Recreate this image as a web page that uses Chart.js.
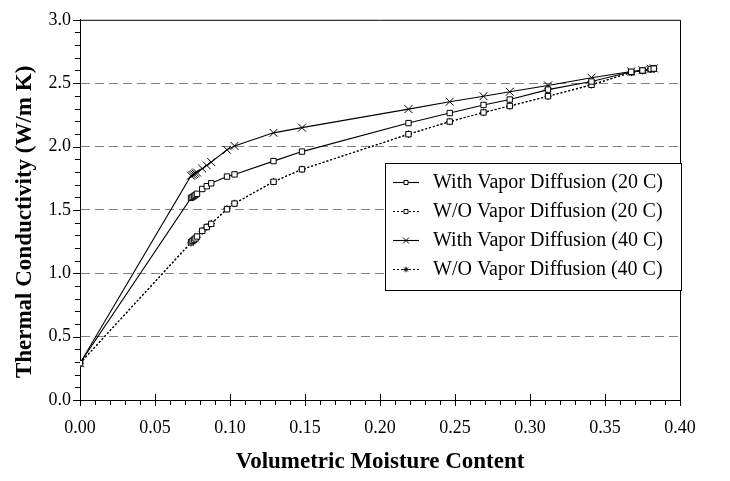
<!DOCTYPE html>
<html><head><meta charset="utf-8">
<script src="https://cdn.jsdelivr.net/npm/chart.js@4.4.1/dist/chart.umd.min.js"></script>
<style>html,body{margin:0;padding:0;background:#fff}canvas{display:block}</style>
</head><body>
<canvas id="c" width="730" height="481"></canvas>
<script>
// ---- data ----
const moisture = [0, 0.0740, 0.0750, 0.0760, 0.0770, 0.0780, 0.0815, 0.0845, 0.0875, 0.0980, 0.1030, 0.1290, 0.1480, 0.2190, 0.2465, 0.2690, 0.2865, 0.3120, 0.3410, 0.3675, 0.3750, 0.3805, 0.3825];
const withVapor20 = [0.29, 1.595, 1.602, 1.610, 1.618, 1.627, 1.665, 1.687, 1.710, 1.763, 1.780, 1.885, 1.960, 2.185, 2.264, 2.328, 2.371, 2.449, 2.513, 2.590, 2.600, 2.612, 2.615];
const withoutVapor20 = [0.29, 1.245, 1.255, 1.265, 1.275, 1.290, 1.335, 1.365, 1.390, 1.505, 1.550, 1.722, 1.820, 2.097, 2.197, 2.269, 2.320, 2.397, 2.487, 2.585, 2.598, 2.610, 2.615];
const withVapor40 = [0.29, 1.770, 1.776, 1.782, 1.789, 1.795, 1.826, 1.851, 1.877, 1.974, 2.005, 2.108, 2.149, 2.295, 2.354, 2.397, 2.432, 2.482, 2.543, 2.592, 2.602, 2.613, 2.617];
const withoutVapor40 = [0.29, 1.240, 1.250, 1.260, 1.272, 1.285, 1.333, 1.364, 1.392, 1.510, 1.551, 1.723, 1.820, 2.097, 2.197, 2.269, 2.320, 2.397, 2.487, 2.585, 2.598, 2.610, 2.615];
const seriesNames = ['With Vapor Diffusion (20 C)', 'W/O Vapor Diffusion (20 C)', 'With Vapor Diffusion (40 C)', 'W/O Vapor Diffusion (40 C)'];
const xAxisTitle = 'Volumetric Moisture Content';
const yAxisTitle = 'Thermal Conductivity (W/m K)';
const xRange = [0, 0.40], xStep = 0.05, xMinor = 0.01;
const yRange = [0, 3.0], yStep = 0.5, yMinor = 0.1;

// ---- styles ----
const SERIF = '"Liberation Serif", "Times New Roman", serif';
const styles = [
  {pointStyle: 'rect', radius: 3.8, dash: [], bg: '#fff'},
  {pointStyle: 'rect', radius: 3.8, dash: [2, 2], bg: '#fff'},
  {pointStyle: 'crossRot', radius: 5.6, dash: [], bg: '#fff'},
  {pointStyle: 'star', radius: 3.7, dash: [2, 2], bg: '#fff'}
];
const seriesValues = [withVapor20, withoutVapor20, withVapor40, withoutVapor40];

const datasets = seriesValues.map((vals, i) => ({
  label: seriesNames[i],
  data: moisture.map((m, k) => ({x: m, y: vals[k]})),
  borderColor: '#000',
  borderWidth: 1.1,
  borderDash: styles[i].dash,
  pointStyle: styles[i].pointStyle,
  pointRadius: styles[i].radius,
  pointBorderColor: '#000',
  pointBorderWidth: 1,
  pointBackgroundColor: styles[i].bg,
  showLine: true,
  fill: false,
  tension: 0
}));

function drawMarker(ctx, style, r, x, y) {
  ctx.save();
  ctx.setLineDash([]);
  ctx.lineWidth = 1;
  ctx.strokeStyle = '#000';
  ctx.fillStyle = '#fff';
  ctx.beginPath();
  if (style === 'rect') {
    const s = r * Math.SQRT1_2;
    ctx.rect(x - s, y - s, 2 * s, 2 * s);
    ctx.fill(); ctx.stroke();
  } else if (style === 'crossRot') {
    const s = r * Math.SQRT1_2;
    ctx.moveTo(x - s, y - s); ctx.lineTo(x + s, y + s);
    ctx.moveTo(x - s, y + s); ctx.lineTo(x + s, y - s);
    ctx.stroke();
  } else if (style === 'star') {
    const s = r * Math.SQRT1_2;
    ctx.moveTo(x - s, y - s); ctx.lineTo(x + s, y + s);
    ctx.moveTo(x - s, y + s); ctx.lineTo(x + s, y - s);
    ctx.moveTo(x, y - r); ctx.lineTo(x, y + r);
    ctx.moveTo(x - r, y); ctx.lineTo(x + r, y);
    ctx.stroke();
  }
  ctx.restore();
}

const framePlugin = {
  id: 'frame',
  beforeDatasetsDraw(chart) {
    const {ctx, chartArea: a, scales: {x, y}} = chart;
    ctx.save();
    ctx.strokeStyle = '#000';
    ctx.lineWidth = 1;
    ctx.setLineDash([]);
    // top and right frame
    ctx.beginPath();
    ctx.moveTo(a.left, a.top + 0.5);
    ctx.lineTo(a.right + 0.5, a.top + 0.5);
    ctx.lineTo(a.right + 0.5, a.bottom);
    ctx.stroke();
    // x ticks
    const nx = Math.round((xRange[1] - xRange[0]) / xMinor);
    const per = Math.round(xStep / xMinor);
    ctx.beginPath();
    const yb = Math.round(y.getPixelForValue(yRange[0]));
    for (let i = 0; i <= nx; i++) {
      const px = Math.round(x.getPixelForValue(xRange[0] + i * xMinor)) + 0.5;
      if (i % per === 0) { ctx.moveTo(px, yb - 6); ctx.lineTo(px, yb + 6); }
      else { ctx.moveTo(px, yb); ctx.lineTo(px, yb + 5); }
    }
    // y ticks
    const ny = Math.round((yRange[1] - yRange[0]) / yMinor);
    const pery = Math.round(yStep / yMinor);
    const xl = Math.round(x.getPixelForValue(xRange[0]));
    for (let i = 0; i <= ny; i++) {
      const py = Math.round(y.getPixelForValue(yRange[0] + i * yMinor)) + 0.5;
      if (i % pery === 0) { ctx.moveTo(xl - 7, py); ctx.lineTo(xl, py); }
      else { ctx.moveTo(xl - 5, py); ctx.lineTo(xl, py); }
    }
    ctx.stroke();
    ctx.restore();
  },
  afterDraw(chart) {
    const {ctx, chartArea: a} = chart;
    // y-axis title
    ctx.save();
    ctx.translate(25, (a.top + a.bottom) / 2 + 12);
    ctx.rotate(-Math.PI / 2);
    ctx.font = 'bold 23px ' + SERIF;
    ctx.fillStyle = '#000';
    ctx.textAlign = 'center';
    ctx.textBaseline = 'middle';
    ctx.fillText(yAxisTitle, 0, 0);
    ctx.restore();
    // legend box
    const bx = 385.5, by = 163.5, bw = 296, bh = 127;
    ctx.save();
    ctx.fillStyle = '#fff';
    ctx.fillRect(bx, by, bw, bh);
    ctx.strokeStyle = '#000';
    ctx.lineWidth = 1;
    ctx.strokeRect(bx, by, bw, bh);
    const rows = [182, 211, 240, 269];
    ctx.font = '20px ' + SERIF;
    ctx.textBaseline = 'middle';
    ctx.textAlign = 'left';
    ctx.fillStyle = '#000';
    seriesNames.forEach((name, i) => {
      const ry = rows[i] + 0.5;
      ctx.save();
      ctx.setLineDash(styles[i].dash);
      ctx.lineWidth = 1.1;
      ctx.beginPath();
      ctx.moveTo(393, ry); ctx.lineTo(419, ry);
      ctx.stroke();
      ctx.restore();
      drawMarker(ctx, styles[i].pointStyle, styles[i].radius * 0.75, 406, ry);
      ctx.fillText(name, 433, rows[i] + 1);
    });
    ctx.restore();
  }
};

new Chart(document.getElementById('c'), {
  type: 'scatter',
  data: {datasets},
  plugins: [framePlugin],
  options: {
    responsive: false,
    animation: false,
    devicePixelRatio: 1,
    layout: {padding: {left: 0, right: 50, top: 10, bottom: 0}},
    plugins: {legend: {display: false}, tooltip: {enabled: false}},
    scales: {
      x: {
        type: 'linear', min: xRange[0], max: xRange[1],
        afterFit(s) { s.height = 81; },
        ticks: {stepSize: xStep, padding: 17, color: '#000', font: {family: SERIF, size: 18},
          callback: v => Number(v).toFixed(2), maxRotation: 0, autoSkip: false},
        grid: {display: false, drawTicks: false},
        border: {display: true, color: '#000', width: 1},
        title: {display: true, text: xAxisTitle, color: '#000', padding: {top: 0, bottom: 5},
          font: {family: SERIF, size: 23, weight: 'bold'}}
      },
      y: {
        type: 'linear', min: yRange[0], max: yRange[1],
        afterFit(s) { s.width = 80; },
        ticks: {stepSize: yStep, padding: 9, color: '#000', font: {family: SERIF, size: 18},
          callback: v => Number(v).toFixed(1)},
        grid: {
          drawTicks: false,
          color: c => (c.tick && (c.tick.value === 0 || Math.abs(c.tick.value - 3) < 1e-9)) ? 'rgba(0,0,0,0)' : '#808080',
          lineWidth: 1
        },
        border: {display: true, color: '#000', width: 1, dash: [9, 5]},
        title: {display: false}
      }
    }
  }
});
</script>
</body></html>
